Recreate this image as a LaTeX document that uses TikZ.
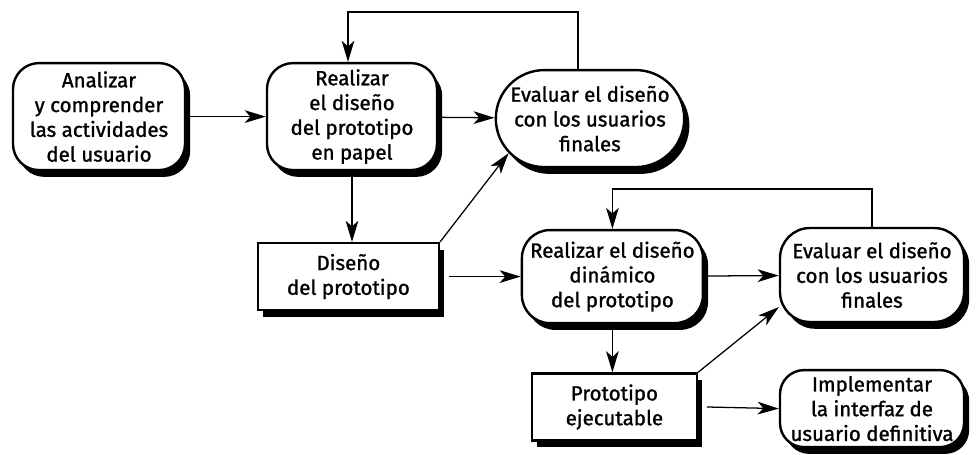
\documentclass[tikz,border=0pt]{standalone}
\usepackage{fontspec}
\setmainfont{Fira Sans}[FakeBold=1.2]
\usetikzlibrary{arrows.meta,shadows,shapes.misc}

\begin{document}
\begin{tikzpicture}[>={Stealth[length=15pt,width=9pt,inset=4pt]},
    every node/.style={font=\fontsize{14.6}{17.6}\selectfont, align=center, inner sep=2pt},
    boxshadow/.style={drop shadow={shadow xshift=0.13cm, shadow yshift=-0.17cm, fill=black, opacity=1}},
    task/.style={draw, line width=1.7pt, fill=white, rounded corners=0.65cm, boxshadow},
    evalbox/.style={draw, line width=1.7pt, fill=white, rounded rectangle, boxshadow},
    product/.style={draw, line width=1.7pt, fill=white, rectangle, boxshadow},
    flow/.style={->, line width=0.9pt}]

    \useasboundingbox (0,0) rectangle (24.45,11.375);

    % --- Paper prototype cycle ---
    \node[task, minimum width=4.3cm, minimum height=2.675cm] (Analizar) at (2.475,8.46)
        {Analizar\\y comprender\\las actividades\\del usuario};
    \node[task, minimum width=4.25cm, minimum height=2.675cm] (Papel) at (8.8,8.46)
        {Realizar\\el diseño\\del prototipo\\en papel};
    \node[evalbox, minimum width=4.85cm, minimum height=2.425cm] (EvalPapel) at (14.75,8.41)
        {Evaluar el diseño\\con los usuarios\\finales};
    \node[product, minimum width=4.525cm, minimum height=1.675cm] (Diseno) at (8.71,4.46)
        {Diseño\\del prototipo};

    % --- Dynamic prototype cycle ---
    \node[task, rounded corners=0.7cm, minimum width=4.525cm, minimum height=2.325cm] (Dinamico) at (15.31,4.46)
        {Realizar el diseño\\dinámico\\del prototipo};
    \node[task, rounded corners=0.75cm, minimum width=4.6cm, minimum height=2.35cm] (EvalDin) at (21.8,4.5)
        {Evaluar el diseño\\con los usuarios\\finales};
    \node[product, minimum width=4.125cm, minimum height=1.675cm] (Ejecutable) at (15.36,1.2)
        {Prototipo\\ejecutable};
    \node[task, rounded corners=0.6cm, minimum width=4.6cm, minimum height=1.925cm] (Implementar) at (21.8,1.16)
        {Implementar\\la interfaz de\\usuario definitiva};

    % --- Connectors ---
    \draw[flow] (Analizar) -- (Papel);
    \draw[flow] (Papel) -- (EvalPapel);
    \draw[flow] (Papel.south) -- (Papel.south |- Diseno.north);
    \draw[flow] (Diseno.north east) -- (EvalPapel.203);
    \draw[flow] (Diseno.east) ++(0.22,0) -- (Dinamico.west);
    \draw[flow] (Dinamico) -- (EvalDin);
    \draw[flow] (Dinamico.south) -- (Dinamico.south |- Ejecutable.north);
    \draw[flow] (Ejecutable.north east) -- (EvalDin.199);
    \draw[flow] (Ejecutable.east) ++(0.22,0) -- (Implementar.west);

    % feedback loops
    \draw[flow] ([xshift=-0.3cm]EvalPapel.north) |- (8.7,11.075) -- (8.7,0 |- Papel.north);
    \draw[flow] (EvalDin.north) |- (Dinamico.north |- 0,6.65) -- (Dinamico.north);

\end{tikzpicture}
\end{document}
